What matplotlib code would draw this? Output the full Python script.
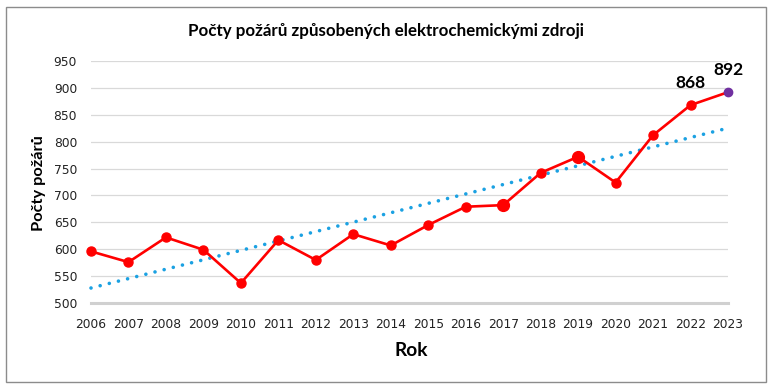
import numpy as np
import matplotlib
matplotlib.use("Agg")
import matplotlib.pyplot as plt
from matplotlib.patches import Rectangle

years = list(range(2006, 2024))
pozary = [596, 576, 622, 599, 537, 617, 580, 628, 607, 645, 679, 682, 742, 772, 724, 812, 868, 892]
big_points = [2017, 2019]
labeled = [2022, 2023]

title = "Počty požárů způsobených elektrochemickými zdroji"
ylabel = "Počty požárů"
xlabel = "Rok"

x = np.array(years)
y = np.array(pozary)

# linear trendline (same as excel)
k, q = np.polyfit(x, y, 1)

fig = plt.figure(figsize=(7.7, 3.89), dpi=100)
ax = fig.add_axes([91/770, 1 - 303/389, (728 - 91)/770, (303 - 61)/389])

ax.plot(x, k*x + q, color="#1BA1E2", lw=2.6, linestyle=(0, (0.01, 2.6)),
        dash_capstyle="round", zorder=2)
ax.plot(x, y, color="#FF0000", lw=1.9, zorder=3)
for xi, yi in zip(x, y):
    if xi == 2023:
        ax.plot(xi, yi, "o", color="#7030A0", ms=6, zorder=4)
    elif xi in big_points:
        ax.plot(xi, yi, "o", color="#FF0000", ms=8.5, zorder=4)
    else:
        ax.plot(xi, yi, "o", color="#FF0000", ms=6.5, zorder=4)

for xi, yi in zip(x, y):
    if xi in labeled:
        ax.annotate(str(yi), (xi, yi), xytext=(0, 16), textcoords="offset points",
                    ha="center", va="center", fontsize=12.5, fontweight="bold",
                    family="Lato", zorder=5)

ax.set_xlim(2006, 2023)
ax.set_ylim(500, 950)
ax.set_yticks(range(500, 951, 50))
ax.set_xticks(years)
ax.grid(axis="y", color="#D9D9D9", lw=0.9)
ax.axhline(500, color="#D0D0D0", lw=2.2, zorder=1)
ax.set_axisbelow(True)
for s in ax.spines.values():
    s.set_visible(False)
ax.tick_params(axis="both", length=0, labelsize=8.8, labelcolor="#222222")
ax.tick_params(axis="x", pad=11)
ax.tick_params(axis="y", pad=10)
for ln in ax.lines:
    ln.set_clip_on(False)

fig.text(386/770, 1 - 31/389, title, ha="center", va="center",
         fontsize=12.2, fontweight="bold", family="Lato")
fig.text(411/770, 1 - 350/389, xlabel, ha="center", va="center",
         fontsize=13.8, fontweight="bold", family="Lato")
fig.text(38.5/770, 1 - 183/389, ylabel, ha="center", va="center", rotation=90,
         fontsize=11.8, fontweight="bold", family="Lato")

fig.patches.append(Rectangle((6/770, 1 - 382/389), 760/770, 375/389,
                             transform=fig.transFigure, fill=False,
                             edgecolor="#8C8C8C", lw=1))

fig.savefig("out.png", dpi=100)
